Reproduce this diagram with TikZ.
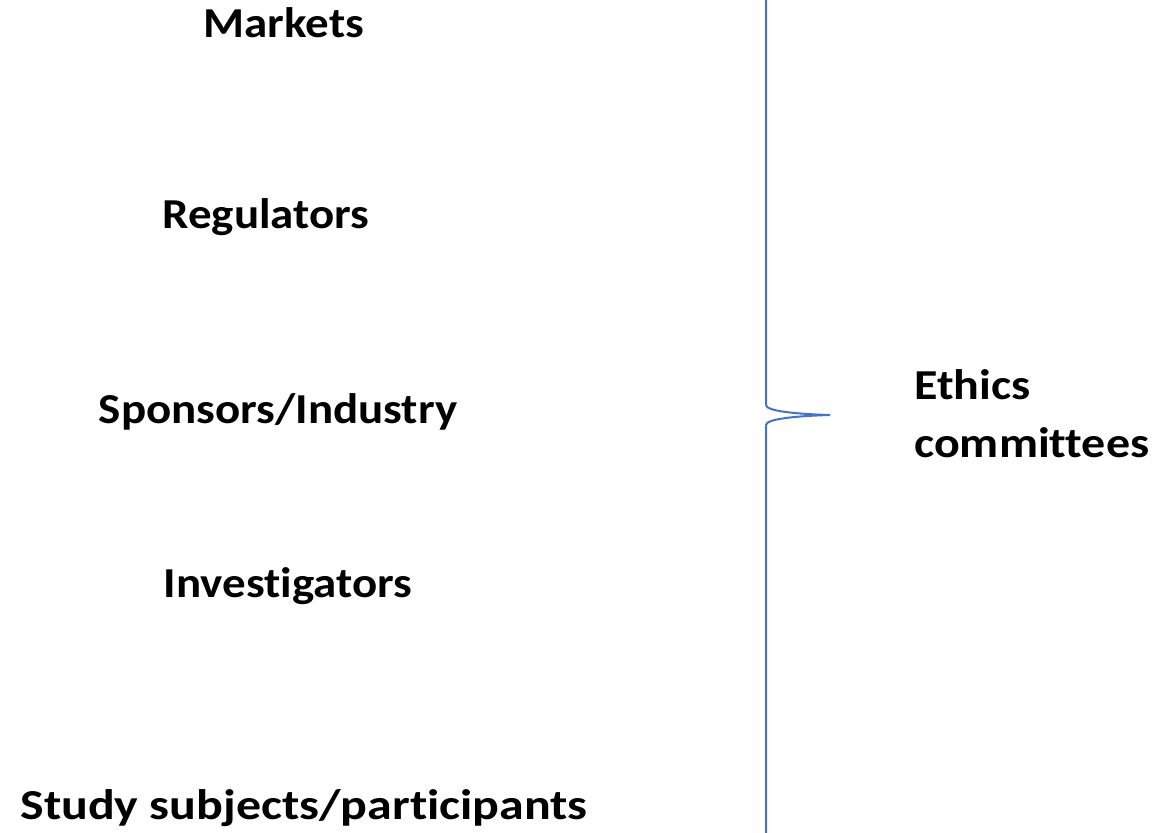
\documentclass[tikz,border=0pt]{standalone}
\usepackage{fontspec}
\setmainfont{Carlito}[RawFeature=-liga]
\definecolor{bracecol}{HTML}{4472C4}
% labels are set slightly wide
\newcommand{\widetext}[2][1.1]{\scalebox{#1}[1]{#2}}
\begin{document}
\begin{tikzpicture}[x=0.75pt,y=-0.75pt,
  lbl/.style={font=\bfseries\fontsize{32}{43}\selectfont, inner sep=0pt, anchor=base},
  bracestroke/.style={draw=bracecol, line width=1.5pt}]
\useasboundingbox (0,0) rectangle (1166,832);

% stakeholder labels
\node[lbl] (markets) at (284,37) {\widetext{Markets}};
\node[lbl] (regulators) at (266,228) {\widetext{Regulators}};
\node[lbl] (sponsors) at (278,423) {\widetext{Sponsors/Industry}};
\node[lbl] (investigators) at (288,597) {\widetext{Investigators}};
\node[lbl] (subjects) at (304,819) {\widetext[1.17]{Study subjects/participants}};

% ethics committees label (base = last line)
\node[lbl, anchor=base west, align=left] (ethics) at (914,457)
  {\widetext[1.125]{Ethics}\\\widetext[1.125]{committees}};

% right-facing curly brace
\coordinate (btop) at (766,-2);
\coordinate (tip) at (830,415);
\coordinate (bbot) at (766,834);
\draw[bracestroke] (btop) -- (766,405)
  .. controls (766,411) and (795,414) .. (tip)
  .. controls (795,416) and (766,419) .. (766,425)
  -- (bbot);
\end{tikzpicture}
\end{document}
